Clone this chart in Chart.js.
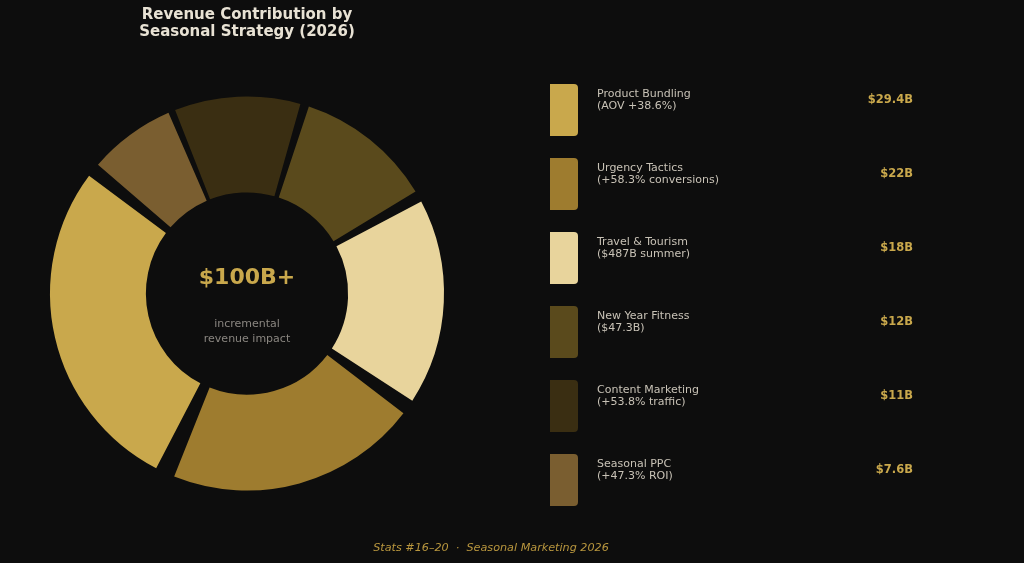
<!DOCTYPE html>
<html>
<head>
<meta charset="utf-8">
<script src="https://cdn.jsdelivr.net/npm/chart.js@4.4.1/dist/chart.umd.min.js"></script>
<style>
html,body{margin:0;padding:0;background:#0d0d0d;}
#wrap{width:1024px;height:563px;position:relative;}
</style>
</head>
<body>
<div id="wrap"><canvas id="c" width="1024" height="563"></canvas></div>
<script>
const categories = ["Product Bundling", "Urgency Tactics", "Travel & Tourism", "New Year Fitness", "Content Marketing", "Seasonal PPC"];
const subLabels = ["(AOV +38.6%)", "(+58.3% conversions)", "($487B summer)", "($47.3B)", "(+53.8% traffic)", "(+47.3% ROI)"];
const values = [29.4, 22, 18, 12, 11, 7.6];
const valueLabels = ["$29.4B", "$22B", "$18B", "$12B", "$11B", "$7.6B"];
const colors = ["#c9a84c", "#9e7c2f", "#e8d49c", "#5a4a1c", "#3a2e12", "#7a5e30"];
const titleLines = ["Revenue Contribution by", "Seasonal Strategy (2026)"];
const centerTitle = "$100B+";
const centerSub = ["incremental", "revenue impact"];
const footer = "Stats #16\u201320  \u00b7  Seasonal Marketing 2026";

// drawn clockwise in Chart.js, so reverse order (reference runs counter-clockwise)
const chartLabels = categories.slice().reverse();
const chartValues = values.slice().reverse();
const chartColors = colors.slice().reverse();

const FONT = "'DejaVu Sans', sans-serif";

const decor = {
  id: 'decor',
  beforeDraw(chart) {
    const ctx = chart.ctx;
    ctx.save();
    ctx.fillStyle = '#0d0d0d';
    ctx.fillRect(0, 0, chart.width, chart.height);
    ctx.restore();
  },
  afterDraw(chart) {
    const ctx = chart.ctx;
    const meta = chart.getDatasetMeta(0);
    const arc = meta.data[0];
    const cx = arc.x, cy = arc.y;
    ctx.save();
    // title
    ctx.textAlign = 'center';
    ctx.textBaseline = 'middle';
    ctx.fillStyle = '#e8e2d4';
    ctx.font = 'bold 15px ' + FONT;
    ctx.fillText(titleLines[0], 247, 15);
    ctx.fillText(titleLines[1], 247, 32);
    // center
    ctx.fillStyle = '#c9a84c';
    ctx.font = 'bold 22px ' + FONT;
    ctx.fillText(centerTitle, cx, cy - 15);
    ctx.fillStyle = '#8a8680';
    ctx.font = '11px ' + FONT;
    ctx.fillText(centerSub[0], cx, cy + 31);
    ctx.fillText(centerSub[1], cx, cy + 46);
    // legend
    for (let i = 0; i < categories.length; i++) {
      const top = 84 + i * 74;
      ctx.fillStyle = colors[i];
      ctx.beginPath();
      ctx.roundRect(550, top, 28, 52, [0, 4, 4, 0]);
      ctx.fill();
      ctx.textAlign = 'left';
      ctx.fillStyle = '#c8c2b6';
      ctx.font = '11px ' + FONT;
      ctx.fillText(categories[i], 597, top + 10);
      ctx.fillText(subLabels[i], 597, top + 22);
      ctx.textAlign = 'right';
      ctx.fillStyle = '#c9a84c';
      ctx.font = 'bold 11.5px ' + FONT;
      ctx.fillText(valueLabels[i], 913, top + 16);
    }
    // footer
    ctx.textAlign = 'center';
    ctx.fillStyle = '#b8963e';
    ctx.font = 'italic 11.2px ' + FONT;
    ctx.fillText(footer, 491, 548);
    ctx.restore();
  }
};

new Chart(document.getElementById('c'), {
  type: 'doughnut',
  data: {
    labels: chartLabels,
    datasets: [{
      data: chartValues,
      backgroundColor: chartColors,
      borderWidth: 0,
      spacing: 18,
      hoverOffset: 0
    }]
  },
  options: {
    responsive: false,
    animation: false,
    rotation: -50,
    cutout: '49%',
    layout: { padding: { left: 50, right: 580, top: 96, bottom: 72 } },
    plugins: {
      legend: { display: false },
      title: { display: false },
      tooltip: { enabled: false }
    }
  },
  plugins: [decor]
});
</script>
</body>
</html>
